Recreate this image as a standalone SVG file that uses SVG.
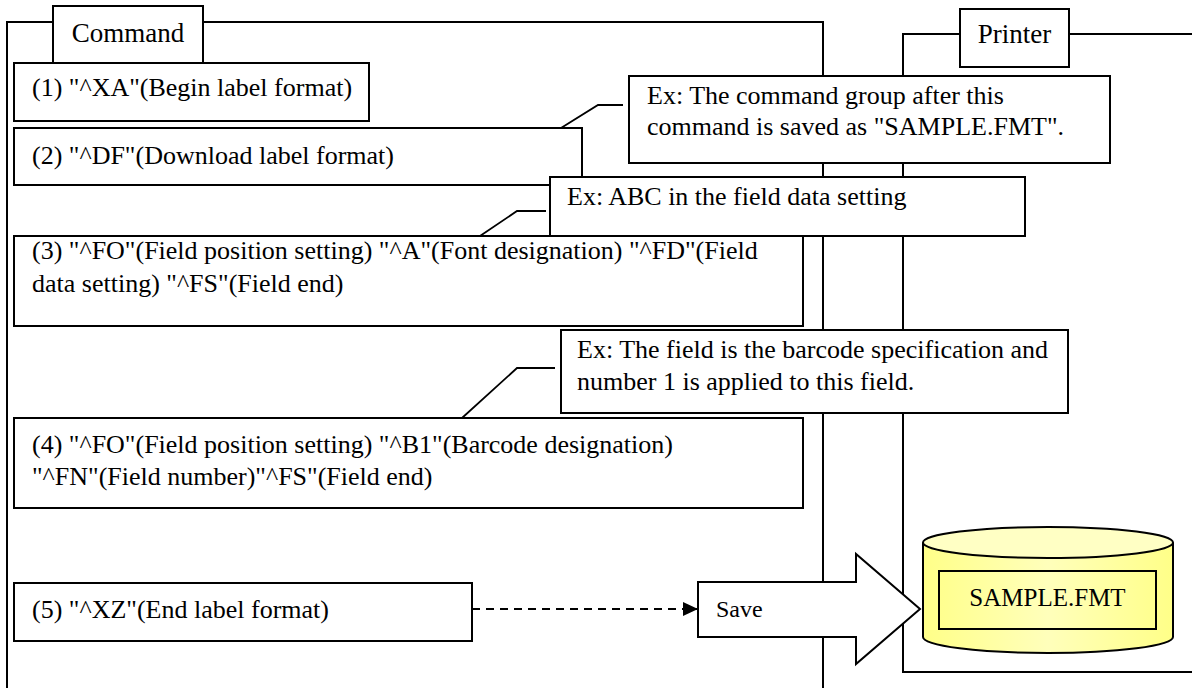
<svg xmlns="http://www.w3.org/2000/svg" width="1192" height="688" viewBox="0 0 1192 688">
<defs>
<style>
.ln{fill:none;stroke:#000;stroke-width:2}
.bx{fill:#fff;stroke:#000;stroke-width:2}
.ld{fill:none;stroke:#000;stroke-width:1.8}
text{font-family:'Liberation Serif','Times New Roman','DejaVu Serif',serif;fill:#000}
.t{font-size:26px}
.tab{font-size:27px;text-anchor:middle}
.s{font-size:24px}
</style>
<linearGradient id="cylg" x1="0" y1="0" x2="1" y2="0">
<stop offset="0" stop-color="#FFFF88"/>
<stop offset="0.5" stop-color="#FFFFBB"/>
<stop offset="1" stop-color="#FFFF88"/>
</linearGradient>
<marker id="ah" markerWidth="16" markerHeight="16" refX="15" refY="8" orient="auto" markerUnits="userSpaceOnUse">
<path d="M0,1 L15,8 L0,15 Z" fill="#000"/>
</marker>
</defs>

<g font-family="'Liberation Serif','Times New Roman',serif">
<g id="command-frame">
<path class="ln" d="M7,688 V22 H823 V688"/>
<rect class="bx" x="53" y="6" width="150" height="58"/>
<text class="tab" x="128" y="42">Command</text>
</g>

<g id="printer-frame">
<path class="ln" d="M1192,34 H903 V672 H1192"/>
<rect class="bx" x="960" y="9" width="109" height="58"/>
<text class="tab" x="1014.5" y="43">Printer</text>
</g>

<g id="step1">
<rect class="bx" x="14" y="63" width="355" height="58"/>
<text class="t" x="32" y="96">(1) "^XA"(Begin label format)</text>
</g>

<g id="step2">
<rect class="bx" x="14" y="128" width="568" height="57"/>
<text class="t" x="32" y="164">(2) "^DF"(Download label format)</text>
</g>

<g id="step3">
<rect class="bx" x="14" y="236" width="789" height="90"/>
<text class="t" x="32" y="259">(3) "^FO"(Field position setting) "^A"(Font designation) "^FD"(Field</text>
<text class="t" x="32" y="292">data setting) "^FS"(Field end)</text>
</g>

<g id="step4">
<rect class="bx" x="14" y="418" width="789" height="90"/>
<text class="t" x="32" y="453">(4) "^FO"(Field position setting) "^B1"(Barcode designation)</text>
<text class="t" x="32" y="485">"^FN"(Field number)"^FS"(Field end)</text>
</g>

<g id="step5">
<rect class="bx" x="14" y="583" width="458" height="58"/>
<text class="t" x="32" y="618">(5) "^XZ"(End label format)</text>
</g>

<g id="connectors">
<polyline class="ld" points="561,128 598,105 623,105"/>
<polyline class="ld" points="480,236 517,211 546,211"/>
<polyline class="ld" points="462,418 517,368 555,368"/>
<line x1="472" y1="609" x2="698" y2="609" stroke="#000" stroke-width="2" stroke-dasharray="8,6" marker-end="url(#ah)"/>
</g>

<g id="note1">
<rect class="bx" x="629" y="76" width="481" height="87"/>
<text class="t" x="647" y="104">Ex: The command group after this</text>
<text class="t" x="647" y="135">command is saved as "SAMPLE.FMT".</text>
</g>

<g id="note2">
<rect class="bx" x="550" y="177" width="475" height="59"/>
<text class="t" x="567" y="205">Ex: ABC in the field data setting</text>
</g>

<g id="note3">
<rect class="bx" x="561" y="330" width="507" height="83"/>
<text class="t" x="577" y="358">Ex: The field is the barcode specification and</text>
<text class="t" x="577" y="390">number 1 is applied to this field.</text>
</g>

<g id="save-arrow">
<path class="bx" d="M698,582 H856 V554 L920,609 L856,664 V637 H698 Z"/>
<text class="s" x="716" y="617">Save</text>
</g>

<g id="storage">
<path d="M923,542.5 V637 A125,16 0 0 0 1173,637 V542.5" fill="url(#cylg)" stroke="#000" stroke-width="2"/>
<ellipse cx="1048" cy="542.5" rx="125" ry="15.5" fill="#FFFFC4" stroke="#000" stroke-width="2"/>
<rect x="939" y="571" width="217" height="58" fill="none" stroke="#000" stroke-width="2"/>
<text class="s" x="1047.5" y="606" text-anchor="middle" style="font-size:25px">SAMPLE.FMT</text>
</g>
</g>
</svg>
